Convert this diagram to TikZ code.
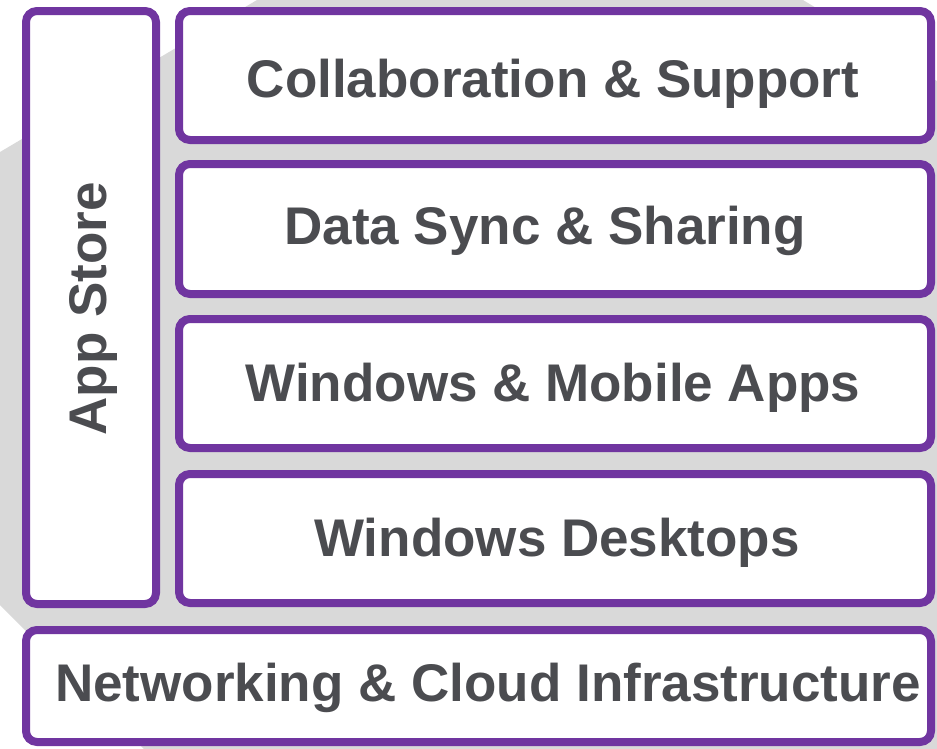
\documentclass[tikz,border=0pt]{standalone}
\usepackage{fontspec}
\setmainfont{Liberation Sans}
\definecolor{boxpurple}{HTML}{7035A0}
\definecolor{txtgray}{HTML}{4B4C50}
\definecolor{bggray}{HTML}{D9D9D9}
\begin{document}
\begin{tikzpicture}[x=1pt,y=-1pt,
  layer/.style={draw=boxpurple, line width=8pt, fill=white, rounded corners=11pt},
  lbl/.style={text=txtgray, font=\fontsize{53}{60}\selectfont\bfseries, inner sep=0pt, anchor=base}]
\useasboundingbox (0,0) rectangle (937,748);
\begin{scope}
\clip (0,0) rectangle (937,748);
\fill[bggray] (0,152) -- (257,0) -- (803,0) -- (960,95) -- (960,760) -- (155,760) -- (0,605) -- cycle;
\end{scope}
% boxes
\draw[layer] (26,11) rectangle (156,604);
\draw[layer] (179,11) rectangle (931,140);
\draw[layer] (179,164) rectangle (931,294);
\draw[layer] (179,319) rectangle (931,448);
\draw[layer] (179,474) rectangle (931,603);
\draw[layer] (26,630) rectangle (931,742);
% labels
\node[lbl] (collab) at (553,97) {Collaboration \& Support};
\node[lbl] (sync) at (545,244) {Data Sync \& Sharing};
\node[lbl] (apps) at (553,401) {Windows \& Mobile Apps};
\node[lbl] (desk) at (557,556) {Windows Desktops};
\node[lbl] (net) at (488,701) {Networking \& Cloud Infrastructure};
\node[lbl, rotate=90] (store) at (106,309) {App Store};
\end{tikzpicture}
\end{document}
